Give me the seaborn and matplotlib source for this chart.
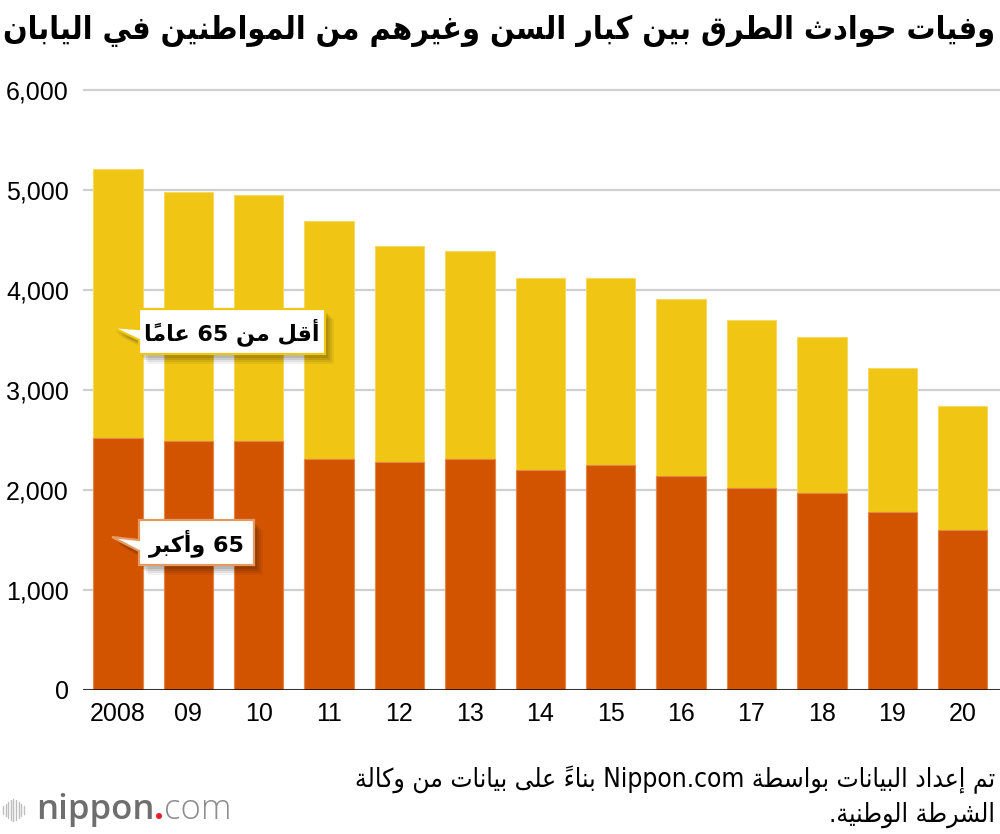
import re
import numpy as np
import pandas as pd
import matplotlib
matplotlib.use("Agg")
import matplotlib.pyplot as plt
import seaborn as sns
from matplotlib.patches import Polygon
from matplotlib.lines import Line2D
from matplotlib.offsetbox import TextArea, HPacker, AnnotationBbox

# ---------------- data ----------------
years = ["2008", "09", "10", "11", "12", "13", "14", "15", "16", "17", "18", "19", "20"]
under65 = [2687, 2495, 2459, 2387, 2158, 2085, 1920, 1870, 1766, 1674, 1566, 1433, 1243]
over65 = [2522, 2484, 2489, 2304, 2280, 2303, 2193, 2247, 2138, 2020, 1966, 1782, 1596]
yticks = [0, 1000, 2000, 3000, 4000, 5000, 6000]
ytick_labels = ["0", "1,000", "2,000", "3,000", "4,000", "5,000", "6,000"]

title = "وفيات حوادث الطرق بين كبار السن وغيرهم من المواطنين في اليابان"
label_under = "أقل من 65 عامًا"
label_over = "65 وأكبر"
source_lines = ["تم إعداد البيانات بواسطة Nippon.com بناءً على بيانات من وكالة",
                "الشرطة الوطنية."]

YELLOW = "#F0C514"
ORANGE = "#D35400"

# ------------- minimal Arabic shaping + bidi for display -------------
_AR_ORDER = "ءآأؤإئابةتثجحخدذرزسشصضطظعغفقكلمنهوىي"
_AR_N = [1, 2, 2, 2, 2, 4, 2, 4, 2, 4, 4, 4, 4, 4, 2, 2, 2, 2,
         4, 4, 4, 4, 4, 4, 4, 4, 4, 4, 4, 4, 4, 4, 4, 2, 2, 4]
_FORMS = {}
_code = 0xFE80
for _ch, _n in zip(_AR_ORDER, _AR_N):
    _FORMS[_ch] = [chr(_code + i) for i in range(_n)]
    _code += _n
_LAMALEF = {"آ": 0xFEF5, "أ": 0xFEF7, "إ": 0xFEF9, "ا": 0xFEFB}


def _is_mark(c):
    return 0x064B <= ord(c) <= 0x0652 or ord(c) == 0x0670


def _nforms(c):
    return len(_FORMS.get(c, [])) if c else 0


def _shape_rtl(seg):
    chars = list(seg)
    letters = [i for i, c in enumerate(chars) if not _is_mark(c)]
    clusters = []
    k = 0
    while k < len(letters):
        i = letters[k]
        c = chars[i]
        prev = chars[letters[k - 1]] if k > 0 else None
        nxt = chars[letters[k + 1]] if k + 1 < len(letters) else None
        marks_end = letters[k + 1] if k + 1 < len(letters) else len(chars)
        marks = "".join(chars[i + 1:marks_end])
        if c in _FORMS:
            cp = _nforms(prev) == 4 and _nforms(c) >= 2
            if c == "ل" and nxt in _LAMALEF:
                glyph = chr(_LAMALEF[nxt] + (1 if cp else 0))
                j = letters[k + 1]
                m_end = letters[k + 2] if k + 2 < len(letters) else len(chars)
                marks += "".join(chars[j + 1:m_end])
                clusters.append(marks + glyph)
                k += 2
                continue
            cn = _nforms(c) == 4 and _nforms(nxt) >= 2
            f = _FORMS[c]
            if cp and cn:
                g = f[3]
            elif cp:
                g = f[1]
            elif cn:
                g = f[2]
            else:
                g = f[0]
            clusters.append(marks + g)
        else:
            clusters.append(marks + c)
        k += 1
    return "".join(reversed(clusters))


def ar(text):
    pat = r"([A-Za-z0-9]+(?:\.[A-Za-z0-9]+)*)"
    parts = re.split(pat, text)
    out = []
    for p in parts:
        if not p:
            continue
        if re.fullmatch(pat, p):
            out.append(p)
        else:
            out.append(_shape_rtl(p))
    return "".join(reversed(out))


# ---------------- figure ----------------
sns.set_theme(style="white")
plt.rcParams["font.family"] = ["Liberation Sans", "DejaVu Sans"]

W, H = 1000, 834
fig = plt.figure(figsize=(W / 100, H / 100), dpi=100)
ax_top_px, ax_bot_px, ax_left_px = 84.7, 689.7, 82.7
ax = fig.add_axes([ax_left_px / W, 1 - ax_bot_px / H, 1 - ax_left_px / W,
                   (ax_bot_px - ax_top_px) / H])

df = pd.DataFrame({"year": years, "under65": under65, "over65": over65})
df["total"] = df["under65"] + df["over65"]

sns.barplot(data=df, x="year", y="total", color=YELLOW, saturation=1, width=0.7,
            edgecolor="#F6D860", linewidth=0.8, ax=ax, zorder=3)
sns.barplot(data=df, x="year", y="over65", color=ORANGE, saturation=1, width=0.7,
            edgecolor="#E2894A", linewidth=0.8, ax=ax, zorder=3)

ax.set_xlim(-0.5, 12.53)
ax.set_ylim(0, 6050)
ax.set_yticks(yticks)
ax.set_yticklabels(ytick_labels)
ax.set_xlabel("")
ax.set_ylabel("")
for s in ax.spines.values():
    s.set_visible(False)
ax.yaxis.grid(True, color="#CFCFCF", linewidth=1.6, zorder=0)
ax.set_axisbelow(True)
ax.axhline(0, color="black", linewidth=1.8, zorder=4)
ax.tick_params(axis="y", length=0, labelsize=18, pad=10, colors="black")
ax.tick_params(axis="x", length=0, labelsize=18, pad=9, colors="black")


def px(x, y):
    return (x / W, 1 - y / H)


renderer = fig.canvas.get_renderer()


def fit_text(t, target_w):
    bb = t.get_window_extent(renderer=renderer)
    t.set_fontsize(t.get_fontsize() * target_w / bb.width)


# ---------------- title ----------------
ttl = fig.text(0.995, 1 - 31 / H, ar(title), ha="right", va="center",
               fontsize=22, fontweight="bold", family=["DejaVu Sans"],
               fontstretch="condensed", color="black")
fit_text(ttl, 988)


# ---------------- callouts ----------------
def callout(x0, y0, x1, y1, tip, b0, b1, edge, text, fs):
    pts = [(x0, y0), (x1, y0), (x1, y1), (x0, y1), (x0, b1), tip, (x0, b0)]
    for dx, dy, a in [(9, 10, 0.05), (7, 8, 0.07), (5, 6, 0.09), (3, 4, 0.10)]:
        sh = Polygon([px(x + dx, y + dy) for x, y in pts], closed=True,
                     transform=fig.transFigure, facecolor="black", edgecolor="none",
                     alpha=a, zorder=10)
        fig.add_artist(sh)
    poly = Polygon([px(x, y) for x, y in pts], closed=True, transform=fig.transFigure,
                   facecolor="white", edgecolor=edge, linewidth=1.6, zorder=11)
    fig.add_artist(poly)
    cx, cy = px((x0 + x1) / 2, (y0 + y1) / 2 + 1)
    fig.text(cx, cy, ar(text), ha="center", va="center", fontsize=fs,
             family=["DejaVu Sans"], fontweight="bold", color="black", zorder=12)


callout(139, 309, 325, 354, (112, 327), 329, 340, YELLOW, label_under, 16)
callout(139, 520, 254, 565, (112, 537), 540, 551, "#E69A62", label_over, 16)

# ---------------- source ----------------
s1 = fig.text(0.995, 1 - 780 / H, ar(source_lines[0]), ha="right", va="center",
              fontsize=19, family=["DejaVu Sans"], fontstretch="condensed", color="black")
fit_text(s1, 640)
fig.text(0.995, 1 - 815 / H, ar(source_lines[1]), ha="right", va="center",
         fontsize=s1.get_fontsize(), family=["DejaVu Sans"], fontstretch="condensed",
         color="black")

# ---------------- logo ----------------
heights = [8, 12, 16, 20, 22, 20, 16, 12, 8]
for i, h in enumerate(heights):
    x = 3 + i * 2.6
    fig.add_artist(Line2D([x / W, x / W], [1 - (810 + h / 2) / H, 1 - (810 - h / 2) / H],
                          transform=fig.transFigure, color="#BDBDBD", linewidth=1.0))
t1 = TextArea("nippon", textprops=dict(fontsize=25, color="#6E6E6E", family="Open Sans",
                                       fontweight="semibold"))
t2 = TextArea(".", textprops=dict(fontsize=25, color="#E8202A", family="Open Sans",
                                  fontweight="bold"))
t3 = TextArea("com", textprops=dict(fontsize=25, color="#8C8C8C", family="Open Sans",
                                    fontweight="light"))
pack = HPacker(children=[t1, t2, t3], sep=0, pad=0, align="baseline")
ab = AnnotationBbox(pack, px(36, 810), xycoords="figure fraction", box_alignment=(0, 0.5),
                    frameon=False, pad=0)
fig.add_artist(ab)

fig.savefig("out.png", dpi=100)
